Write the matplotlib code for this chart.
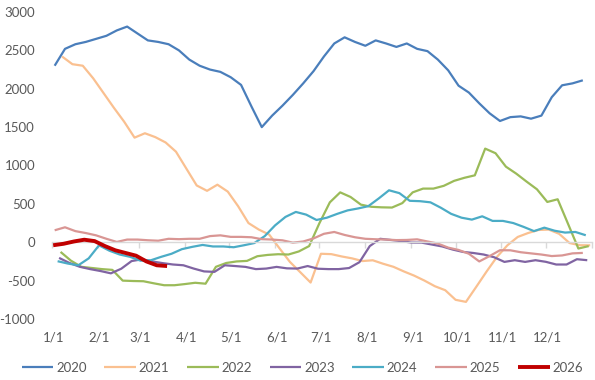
import numpy as np
import pandas as pd
import matplotlib
matplotlib.use("Agg")
import matplotlib.pyplot as plt
from matplotlib.transforms import offset_copy

# ---------------- data (weekly, Friday readings) ----------------
years = ["2020", "2021", "2022", "2023", "2024", "2025", "2026"]
start_dates = ["2020-01-03", "2021-01-08", "2022-01-07", "2023-01-06",
               "2024-01-05", "2025-01-03", "2026-01-02"]

v2020 = [2300, 2520, 2580, 2610, 2650, 2690, 2760, 2810, 2720, 2630, 2610, 2580,
         2500, 2380, 2300, 2250, 2220, 2150, 2050, 1770, 1500, 1650, 1780, 1920,
         2070, 2230, 2420, 2590, 2670, 2610, 2560, 2630, 2590, 2545, 2590, 2520,
         2490, 2380, 2240, 2040, 1950, 1810, 1680, 1580, 1630, 1640, 1610, 1650,
         1890, 2045, 2070, 2110]
v2021 = [2420, 2320, 2300, 2137, 1945, 1753, 1570, 1363, 1420, 1370, 1300, 1180,
         960, 740, 670, 750, 660, 470, 250, 165, 100, -80, -256, -390,
         -525, -150, -155, -185, -210, -245, -235, -280, -320, -380, -435, -500,
         -573, -625, -750, -777, -580, -380, -190, -40, 69, 120, 160, 165,
         110, -10, -39, -40]
v2022 = [-126, -240, -320, -335, -350, -360, -500, -505, -508, -535, -560, -560,
         -545, -528, -540, -320, -270, -250, -243, -182, -165, -156, -160, -120,
         -50, 250, 520, 650, 590, 490, 462, 455, 452, 510, 650, 699,
         699, 735, 800, 840, 872, 1220, 1160, 985, 894, 790, 690, 525,
         560, 240, -82, -50]
v2023 = [-204, -270, -320, -350, -375, -405, -345, -245, -222, -250, -272, -290,
         -300, -343, -380, -386, -300, -310, -321, -350, -343, -321, -340, -343,
         -310, -345, -350, -350, -336, -260, -50, 45, 30, 15, -4, -5,
         -30, -55, -95, -126, -140, -160, -195, -256, -234, -256, -234, -255,
         -290, -290, -221, -234]
v2024 = [-247, -278, -300, -210, -40, -110, -160, -190, -240, -235, -190, -150,
         -90, -60, -35, -55, -55, -65, -39, -10, 80, 220, 330, 395,
         360, 290, 320, 370, 415, 440, 470, 570, 677, 640, 540, 535,
         520, 450, 370, 320, 295, 338, 278, 278, 250, 200, 145, 190,
         150, 126, 134, 91]
v2025 = [156, 195, 145, 120, 90, 45, 4, 35, 35, 26, 20, 45,
         40, 45, 45, 80, 90, 70, 70, 65, 40, 35, 25, -5,
         10, 50, 110, 134, 95, 65, 45, 39, 35, 28, 30, 38,
         10, -17, -70, -100, -150, -250, -180, -104, -105, -130, -145, -160,
         -180, -172, -145, -139]
v2026 = [-39, -20, 10, 33, 15, -50, -105, -140, -175, -250, -300, -310]

series = [v2020, v2021, v2022, v2023, v2024, v2025, v2026]

month_labels = ["1/1", "2/1", "3/1", "4/1", "5/1", "6/1",
                "7/1", "8/1", "9/1", "10/1", "11/1", "12/1"]
y_ticks = [-1000, -500, 0, 500, 1000, 1500, 2000, 2500, 3000]

# ---------------- styles ----------------
colors = ["#4A7EBB", "#FAC090", "#9BBB59", "#8064A2", "#4BACC6", "#D99694", "#C00000"]
widths = [1.6, 1.6, 1.6, 1.6, 1.6, 1.6, 2.8]

plt.rcParams["font.family"] = ["Lato", "DejaVu Sans"]
text_color = "#595959"

fig = plt.figure(figsize=(5.95, 3.80), dpi=100)
ax = fig.add_axes([51.7 / 595, 61 / 380, 540 / 595, 307 / 380])


def day_of_year(d):
    d = pd.Timestamp(d)
    return (d - pd.Timestamp(year=d.year, month=1, day=1)).days


for name, start, vals, c, lw in zip(years, start_dates, series, colors, widths):
    dates = pd.date_range(start=start, periods=len(vals), freq="7D")
    x = np.array([day_of_year(d) for d in dates])
    ax.plot(x, vals, color=c, lw=lw, label=name, solid_joinstyle="round",
            solid_capstyle="butt", zorder=3 if name == "2026" else 2)

ax.set_xlim(0, 365)
ax.set_ylim(-1000, 3000)

# month starts (common year)
month_days = [day_of_year(pd.Timestamp(year=2021, month=m, day=1)) for m in range(1, 13)]

ax.spines["bottom"].set_position(("data", 0))
ax.spines["bottom"].set_color("#D9D9D9")
ax.spines["bottom"].set_linewidth(1.0)
for s in ["top", "right", "left"]:
    ax.spines[s].set_visible(False)

ax.set_xticks(month_days + [365])
ax.tick_params(axis="x", direction="out", length=4, width=1.0, color="#D9D9D9",
               labelbottom=False)
trans = offset_copy(ax.get_xaxis_transform(), fig=fig, x=0, y=-18, units="dots")
for d, lab in zip(month_days, month_labels):
    ax.text(d + 1, 0, lab, transform=trans, ha="center", va="center",
            fontsize=9.5, color=text_color)

ax.set_yticks(y_ticks)
ax.set_yticklabels([str(v) for v in y_ticks])
ax.tick_params(axis="y", length=0, pad=12, labelsize=9.5, labelcolor=text_color)

leg = ax.legend(loc="center", bbox_to_anchor=(0.508, 12.3 / 380),
                bbox_transform=fig.transFigure, ncol=7, frameon=False,
                fontsize=9.5, handlelength=2.4, handletextpad=0.2,
                columnspacing=1.35, borderpad=0)
for t in leg.get_texts():
    t.set_color(text_color)

fig.savefig("out.png", dpi=100)
